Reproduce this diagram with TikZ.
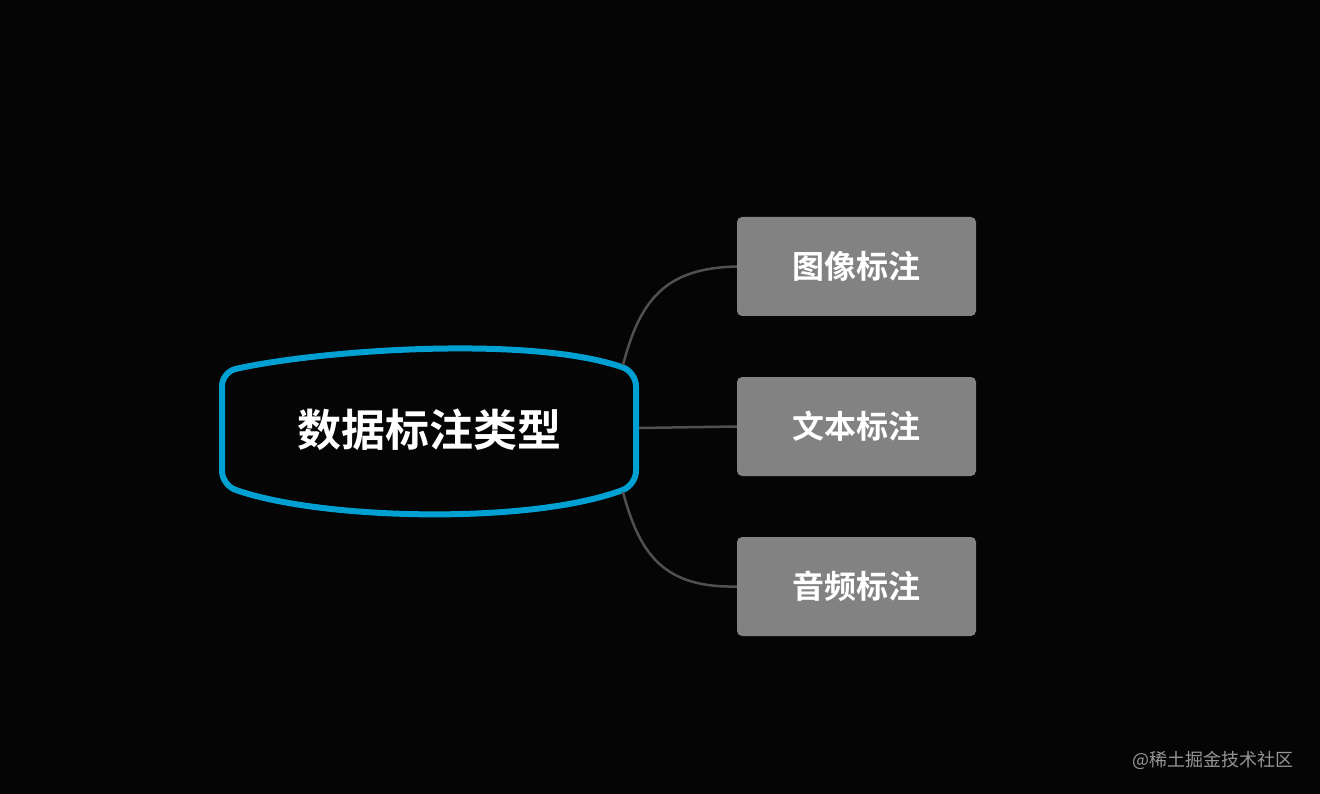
\documentclass[tikz,border=0pt]{standalone}
\usepackage{fontspec}
\newfontfamily\cjk{Noto Sans CJK SC}
\newfontfamily\cjkb{Noto Sans CJK SC Bold}
\definecolor{bgc}{RGB}{5,5,5}
\definecolor{leafc}{RGB}{130,130,130}
\definecolor{linec}{RGB}{80,80,80}
\definecolor{bluec}{RGB}{0,160,210}
\definecolor{wmc}{RGB}{150,150,150}
\begin{document}
\begin{tikzpicture}[x=1pt,y=-1pt,
  leaf/.style={fill=leafc, rounded corners=5pt, minimum width=239pt, minimum height=99pt, text=white, font=\cjkb\fontsize{32}{36}\selectfont},
  conn/.style={draw=linec, line width=2.5pt}]
\fill[bgc] (0,0) rectangle (1320,794);
\useasboundingbox (0,0) rectangle (1320,794);
\draw[line width=6pt, draw=bluec, rounded corners=14pt]
  (222,430) -- (222,372) .. controls (320,350) and (530,335) .. (636,372) -- (636,485) .. controls (530,525) and (320,520) .. (222,485) -- cycle;
\node[text=white, font=\cjkb\fontsize{44}{50}\selectfont] (root) at (429,430) {数据标注类型};
\node[leaf] (a) at (856.5,266.5) {图像标注};
\node[leaf] (b) at (856.5,426.5) {文本标注};
\node[leaf] (c) at (856.5,586.5) {音频标注};
\coordinate (r1) at (623,365);
\coordinate (r2) at (639,428);
\coordinate (r3) at (623,492);
\draw[conn] (r1) .. controls (640,300) and (665,268) .. (a.west);
\draw[conn] (r2) -- (b.west);
\draw[conn] (r3) .. controls (640,556) and (665,588) .. (c.west);
\node[text=wmc, font=\cjk\fontsize{18}{20}\selectfont, anchor=east] (wm) at (1297,760) {@稀土掘金技术社区};
\end{tikzpicture}
\end{document}
